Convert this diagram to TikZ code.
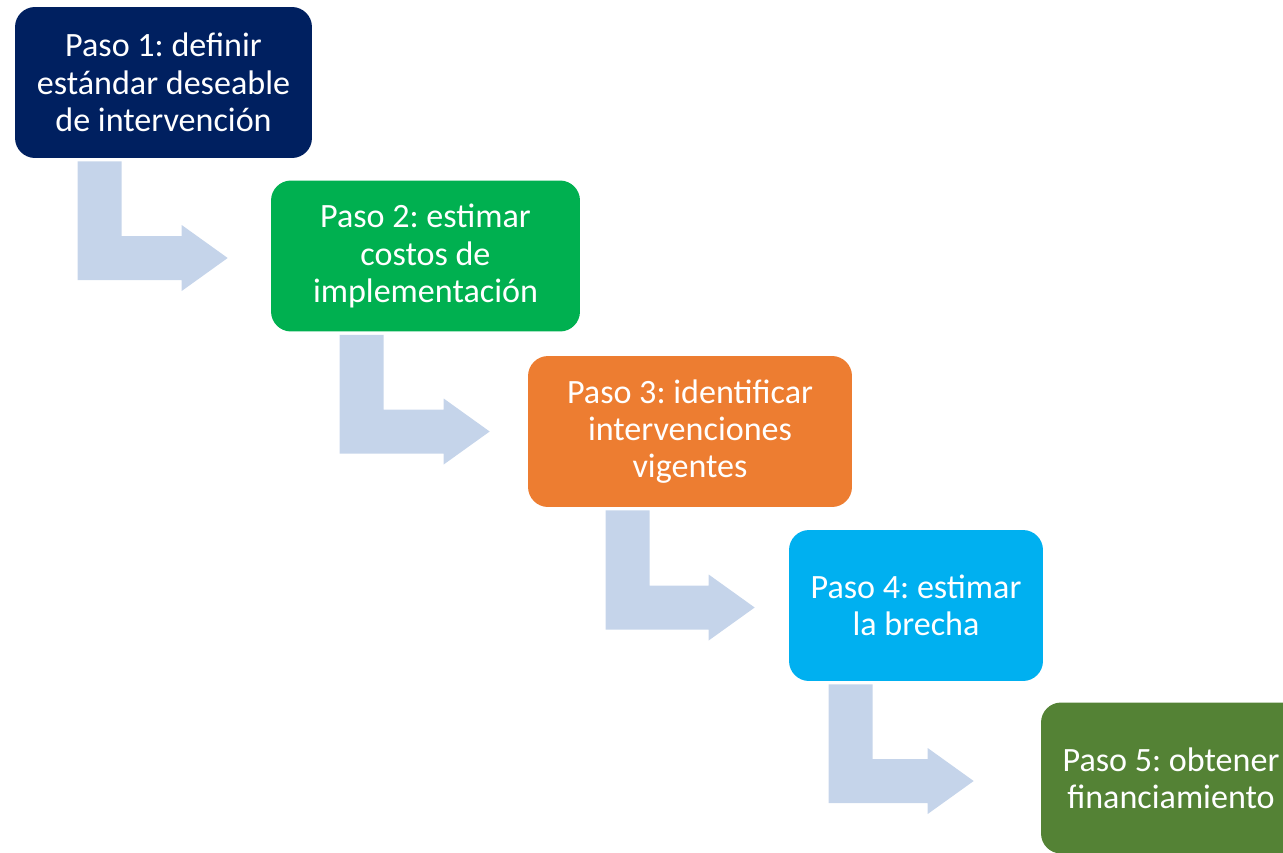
\documentclass[tikz,border=0pt]{standalone}
\usepackage{fontspec}
\setmainfont{Carlito}
\frenchspacing
\usetikzlibrary{calc}
\definecolor{pasoazul}{HTML}{002060}
\definecolor{pasoverde}{HTML}{00B050}
\definecolor{pasonaranja}{HTML}{ED7D31}
\definecolor{pasocian}{HTML}{00B0F0}
\definecolor{pasoolivo}{HTML}{548235}
\definecolor{flechagris}{HTML}{C5D4EA}
\tikzset{
    paso/.style={rounded corners=.4cm, inner sep=0pt, align=center, text=white,
        font=\fontsize{19.4}{21.2}\selectfont, minimum height=3.02cm},
    flecha/.style={fill=flechagris}
}
\newcommand{\bentarrow}[2]{%
    \fill[flecha] (#1) -- ++(44,0) |- ($(#2)+(-46,-22)$) -- ++(0,-11) -- (#2)
        -- ($(#2)+(-46,33)$) -- ++(0,-11) -| (#1) -- cycle;}

\begin{document}
\begin{tikzpicture}[x=.02cm, y=-.02cm]
        \useasboundingbox (0,0) rectangle (1283,852);
        \clip (0,0) rectangle (1283,852);
        \node[paso, fill=pasoazul, minimum width=5.94cm] (p1) at (163.5,82.5)
            {Paso 1: definir\\estándar deseable\\de intervención};
        \node[paso, fill=pasoverde, minimum width=6.18cm] (p2) at (425.5,256)
            {Paso 2: estimar\\costos de\\implementación};
        \node[paso, fill=pasonaranja, minimum width=6.48cm] (p3) at (690,431.5)
            {Paso 3: identificar\\intervenciones\\vigentes};
        \node[paso, fill=pasocian, minimum width=5.08cm] (p4) at (916,605.5)
            {Paso 4: estimar\\la brecha};
        \node[paso, fill=pasoolivo, minimum width=5.2cm] (p5) at (1171,778)
            {Paso 5: obtener\\financiamiento};
        \coordinate (a1) at ($(p1.south west)+(63,3)$);
        \coordinate (t1) at ($(p2.west)+(-43,2)$);
        \coordinate (a2) at ($(p2.south west)+(69,3)$);
        \coordinate (t2) at ($(p3.west)+(-38,0)$);
        \coordinate (a3) at ($(p3.south west)+(78,3)$);
        \coordinate (t3) at ($(p4.west)+(-34,2)$);
        \coordinate (a4) at ($(p4.south west)+(40,3)$);
        \coordinate (t4) at ($(p5.west)+(-67,3)$);
        \bentarrow{a1}{t1}
        \bentarrow{a2}{t2}
        \bentarrow{a3}{t3}
        \bentarrow{a4}{t4}
    \end{tikzpicture}
\end{document}
